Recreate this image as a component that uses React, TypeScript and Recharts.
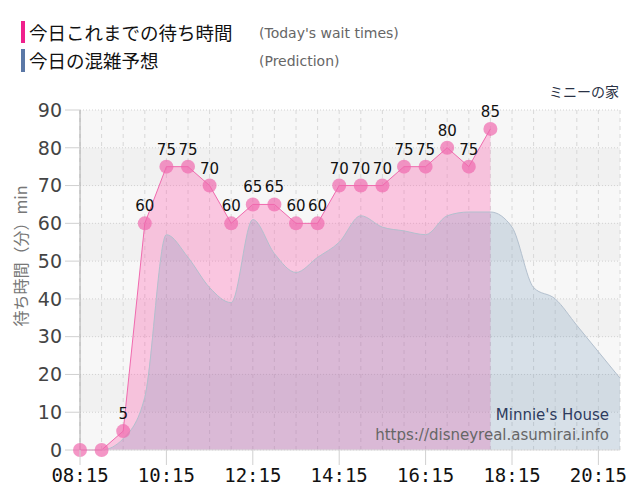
import React from "react";
import {
  ComposedChart,
  Area,
  Line,
  XAxis,
  YAxis,
  CartesianGrid,
  LabelList,
} from "recharts";

const times = [
  "08:15", "08:45", "09:15", "09:45", "10:15", "10:45", "11:15", "11:45",
  "12:15", "12:45", "13:15", "13:45", "14:15", "14:45", "15:15", "15:45",
  "16:15", "16:45", "17:15", "17:45", "18:15", "18:45", "19:15", "19:45",
  "20:15", "20:45",
];

const xTickLabels = ["08:15", "10:15", "12:15", "14:15", "16:15", "18:15", "20:15"];

// today's actual wait times (min)
const waitTimes = [0, 0, 5, 60, 75, 75, 70, 60, 65, 65, 60, 60, 70, 70, 70, 75, 75, 80, 75, 85];

// predicted wait (min)
const prediction = [
  0, 0, 3, 14, 57, 51, 43, 39, 61, 52, 47, 51, 55, 62, 59, 58, 57, 62, 63, 63,
  59, 43, 40, 33, 26, 19,
];

const yTicks = [0, 10, 20, 30, 40, 50, 60, 70, 80, 90];

const data = times.map((t, i) => ({
  idx: i,
  time: t,
  wait: i < waitTimes.length ? waitTimes[i] : null,
  pred: prediction[i],
}));

const PINK = "#f06aae";

function XTick({ x, payload }: { x?: number; y?: number; payload?: { value: number } }) {
  const label = times[payload?.value ?? 0];
  if (!xTickLabels.includes(label)) return null;
  return (
    <g>
      <line x1={x} x2={x} y1={450} y2={465} stroke="#d0d0d0" />
      <text
        x={x}
        y={482}
        textAnchor="middle"
        fontSize={19}
        fontFamily="'DejaVu Sans Mono', monospace"
        fill="#111"
      >
        {label}
      </text>
    </g>
  );
}

function PointLabel(props: any) {
  const { x, y, value } = props;
  if (!value) return null;
  return (
    <text
      x={x}
      y={y - 12}
      textAnchor="middle"
      fontSize={15}
      fontFamily="'DejaVu Sans', sans-serif"
      fill="#111"
    >
      {value}
    </text>
  );
}

const cjk = "'Noto Sans CJK JP', 'DejaVu Sans', sans-serif";

export default function App() {
  return (
    <div
      style={{
        position: "absolute",
        left: 0,
        top: 0,
        width: 640,
        height: 500,
        background: "#fff",
        fontFamily: "'DejaVu Sans', sans-serif",
      }}
    >
      {/* legend */}
      <div style={{ position: "absolute", left: 21, top: 21, width: 4, height: 22, background: "#f0208c" }} />
      <div style={{ position: "absolute", left: 29, top: 19, fontSize: 18.5, fontFamily: cjk, color: "#111", lineHeight: "26px" }}>
        今日これまでの待ち時間
      </div>
      <div style={{ position: "absolute", left: 259, top: 23, fontSize: 14, color: "#666", lineHeight: "20px" }}>
        (Today's wait times)
      </div>
      <div style={{ position: "absolute", left: 21, top: 49, width: 4, height: 23, background: "#5b78a6" }} />
      <div style={{ position: "absolute", left: 29, top: 47, fontSize: 18.5, fontFamily: cjk, color: "#111", lineHeight: "26px" }}>
        今日の混雑予想
      </div>
      <div style={{ position: "absolute", left: 259, top: 51, fontSize: 14, color: "#666", lineHeight: "20px" }}>
        (Prediction)
      </div>
      <div style={{ position: "absolute", right: 21, top: 81, fontSize: 14, fontFamily: cjk, color: "#2a3245", lineHeight: "20px" }}>
        ミニーの家
      </div>

      <ComposedChart
        width={640}
        height={500}
        data={data}
        margin={{ top: 110, right: 20, bottom: 0, left: 0 }}
      >
        <CartesianGrid
          stroke="#d2d2d2"
          strokeDasharray="1 2"
          vertical={false}
          horizontalFill={["#f7f7f7", "#f1f1f1"]}
          fillOpacity={1}
        />
        <CartesianGrid stroke="#d8d8d8" strokeDasharray="4 4" horizontal={false} />
        <XAxis
          dataKey="idx"
          type="number"
          domain={[0, 25]}
          ticks={times.map((_, i) => i)}
          interval={0}
          height={50}
          tickLine={false}
          axisLine={{ stroke: "#dddddd" }}
          tick={<XTick />}
        />
        <YAxis
          domain={[0, 90]}
          ticks={yTicks}
          width={80}
          tickSize={15}
          tickMargin={3}
          tickLine={{ stroke: "#d0d0d0" }}
          axisLine={{ stroke: "#aaaaaa" }}
          tick={{ fontSize: 19, fill: "#444", fontFamily: "'DejaVu Sans', sans-serif" }}
        />
        <Area
          type="linear"
          dataKey="wait"
          stroke="none"
          fill="#ff69b4"
          fillOpacity={0.35}
          isAnimationActive={false}
        />
        <Area
          type="monotone"
          dataKey="pred"
          stroke="#b3c0ce"
          strokeWidth={1}
          fill="#5b86b0"
          fillOpacity={0.2}
          isAnimationActive={false}
        />
        <Line
          type="linear"
          dataKey="wait"
          stroke={PINK}
          strokeWidth={1}
          dot={{ r: 7, fill: PINK, fillOpacity: 0.7, stroke: "none" }}
          activeDot={false}
          isAnimationActive={false}
        >
          <LabelList dataKey="wait" content={<PointLabel />} />
        </Line>
      </ComposedChart>

      {/* y axis title */}
      <div
        style={{
          position: "absolute",
          left: 20,
          top: 256,
          transform: "translate(-50%, -50%) rotate(-90deg)",
          whiteSpace: "nowrap",
          fontSize: 16,
          fontFamily: cjk,
          color: "#777",
        }}
      >
        待ち時間（分）min
      </div>

      {/* watermark */}
      <div style={{ position: "absolute", right: 31, top: 405, fontSize: 15, color: "#2e3b5e", lineHeight: "20px" }}>
        Minnie's House
      </div>
      <div style={{ position: "absolute", right: 31, top: 425, fontSize: 15, color: "#666", lineHeight: "20px" }}>
        https://disneyreal.asumirai.info
      </div>
    </div>
  );
}
